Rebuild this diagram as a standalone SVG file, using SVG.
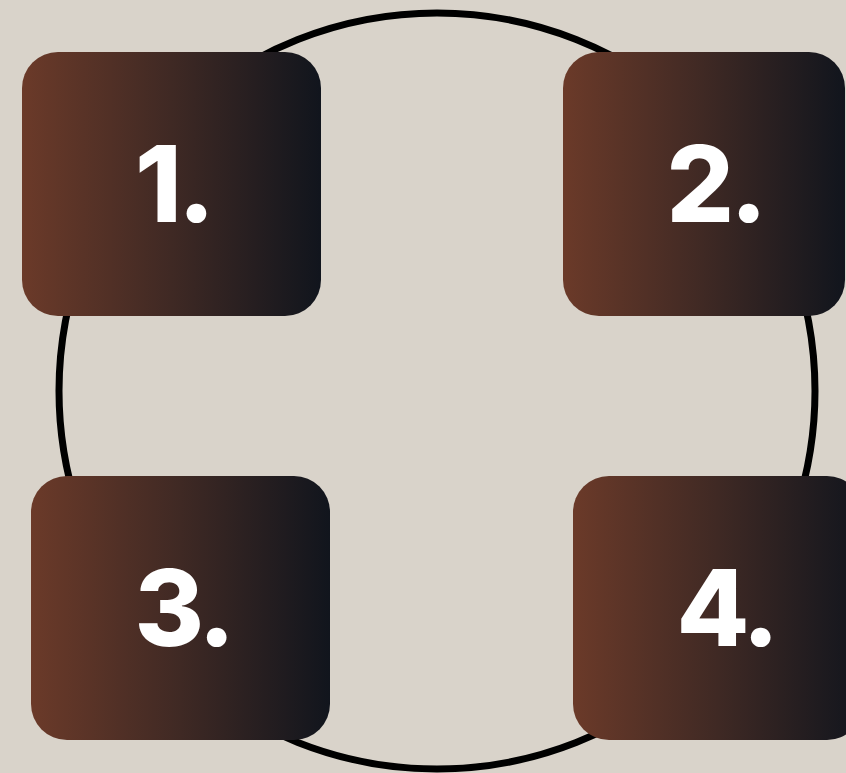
<svg xmlns="http://www.w3.org/2000/svg" width="846" height="773" viewBox="0 0 846 773">
<defs>
<linearGradient id="g" x1="0" y1="0" x2="1" y2="0">
<stop offset="0" stop-color="#6b3a29"/>
<stop offset="0.5" stop-color="#3f2924"/>
<stop offset="1" stop-color="#11151d"/>
</linearGradient>
<style>
.box{fill:url(#g)}
.lbl{font-family:Inter,"Liberation Sans",sans-serif;font-weight:800;font-size:106px;letter-spacing:-4px;fill:#ffffff;text-anchor:middle}
</style>
</defs>
<rect width="846" height="773" fill="#d9d3ca"/>
<g id="connectors">
<circle cx="437" cy="391" r="378" fill="none" stroke="#000" stroke-width="7"/>
</g>
<g id="node1"><rect class="box" x="22" y="52" width="299" height="264" rx="36"/><text class="lbl" x="173" y="222">1.</text></g>
<g id="node2"><rect class="box" x="563" y="52" width="282" height="264" rx="36"/><text class="lbl" x="715" y="222">2.</text></g>
<g id="node3"><rect class="box" x="31" y="476" width="299" height="264" rx="36"/><text class="lbl" x="183" y="646">3.</text></g>
<g id="node4"><rect class="box" x="573" y="476" width="290" height="264" rx="36"/><text class="lbl" x="726" y="646">4.</text></g>
</svg>
